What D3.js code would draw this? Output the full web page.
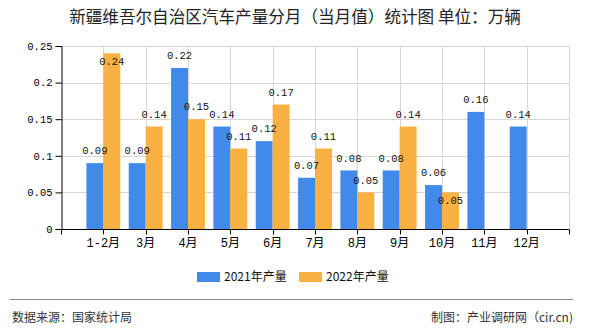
<!DOCTYPE html>
<html><head><meta charset="utf-8">
<script src="https://cdn.jsdelivr.net/npm/d3@7"></script>
<style>body{margin:0;background:#fff}svg{display:block}</style>
</head><body><svg id="c" width="590" height="330"></svg>
<script>
const categories = ["1-2月","3月","4月","5月","6月","7月","8月","9月","10月","11月","12月"];
const series2021 = [0.09,0.09,0.22,0.14,0.12,0.07,0.08,0.08,0.06,0.16,0.14];
const series2022 = [0.24,0.14,0.15,0.11,0.17,0.11,0.05,0.14,0.05,null,null];
const yTicks = [0,0.05,0.1,0.15,0.2,0.25];
const yTickLabels = ["0","0.05","0.1","0.15","0.2","0.25"];
const seriesNames = ["2021年产量","2022年产量"];
const colors = ["#418aeb","#fbb142"];

const svg = d3.select("#c");
const L=61, R=569, T=46, B=229;
const monoFont = "'Liberation Mono','DejaVu Sans Mono',monospace";
const cjk = "'Noto Sans CJK SC','Noto Sans',sans-serif";

const x = d3.scalePoint().domain(categories).range([L,R]).padding(1);
const step = x.step();
const y = d3.scaleLinear().domain([0,0.25]).range([B,T]);
const bw = step*0.4;

svg.append("text").attr("x",295).attr("y",23).attr("text-anchor","middle")
  .attr("font-family",cjk).attr("font-size",16.6).attr("fill","#222").text("新疆维吾尔自治区汽车产量分月（当月值）统计图 单位：万辆");

// grid
const g = svg.append("g");
g.selectAll(".hg").data(yTicks.slice(1)).join("line")
  .attr("x1",L).attr("x2",R).attr("y1",d=>Math.round(y(d))+0.5).attr("y2",d=>Math.round(y(d))+0.5)
  .attr("stroke","#d6d6d6");
const vx = categories.map(c=>x(c)).concat([R]);
g.selectAll(".vg").data(vx).join("line")
  .attr("x1",d=>Math.round(d)+0.5).attr("x2",d=>Math.round(d)+0.5).attr("y1",T).attr("y2",B)
  .attr("stroke","#d6d6d6");

// bars
const data = [series2021, series2022];
data.forEach((s,si)=>{
  svg.append("g").selectAll("rect").data(categories.map((c,i)=>({c,v:s[i]})).filter(d=>d.v!=null)).join("rect")
    .attr("x",d=>x(d.c)+(si===0?-bw:0)).attr("width",bw)
    .attr("y",d=>y(d.v)).attr("height",d=>B-y(d.v)).attr("fill",colors[si]);
});

// axes
const ya = d3.axisLeft(y).tickValues(yTicks).tickSize(6).tickFormat((d,i)=>yTickLabels[i]);
const yg = svg.append("g").attr("transform",`translate(${L+0.5},0)`).call(ya);
yg.select(".domain").attr("stroke","#000");
yg.selectAll(".tick line").attr("stroke","#000");
yg.selectAll(".tick text").attr("font-family",monoFont).attr("font-size",10.5).attr("fill","#000").attr("x",-9);

const xg = svg.append("g").attr("transform",`translate(0,${B+0.5})`);
xg.append("line").attr("x1",L).attr("x2",R).attr("stroke","#000");
xg.selectAll(".xt").data([L].concat(vx)).join("line")
  .attr("x1",d=>Math.round(d)+0.5).attr("x2",d=>Math.round(d)+0.5).attr("y1",0).attr("y2",5).attr("stroke","#000");
xg.selectAll("text").data(categories).join("text")
  .attr("x",d=>x(d)).attr("y",17).attr("text-anchor","middle")
  .attr("font-family",monoFont+","+cjk).attr("font-size",12).attr("fill","#000").text(d=>d);

// labels
const lbl = svg.append("g").attr("font-family",monoFont).attr("font-size",10.5).attr("fill","#111").attr("text-anchor","middle");
categories.forEach((c,i)=>{
  const v1 = series2021[i], v2 = series2022[i];
  let y1 = v1!=null ? y(v1)-12.5 : null;
  if (v1!=null) {
    if (y1 < T) y1 = y(v1)+8;
    lbl.append("text").attr("x",x(c)-bw/2).attr("y",y1).attr("dy","0.35em").text(v1);
  }
  if (v2!=null) {
    let y2 = y(v2)-12.5;
    if (y2 < T || (y1!=null && Math.abs(y2-y1) < 13)) y2 = y(v2)+8;
    lbl.append("text").attr("x",x(c)+bw/2).attr("y",y2).attr("dy","0.35em").text(v2);
  }
});

// legend
const lg = svg.append("g");
const lx = [197,299];
seriesNames.forEach((n,i)=>{
  lg.append("rect").attr("x",lx[i]).attr("y",272).attr("width",23).attr("height",10).attr("fill",colors[i]);
  lg.append("text").attr("x",lx[i]+27).attr("y",277).attr("dy","0.35em").attr("font-family",cjk).attr("font-size",12).attr("fill","#111").text(n);
});

// footer
svg.append("line").attr("x1",10).attr("x2",573).attr("y1",299.5).attr("y2",299.5).attr("stroke","#888");
svg.append("text").attr("x",12).attr("y",318).attr("dy","0.35em").attr("font-family",cjk).attr("font-size",12).attr("fill","#333").text("数据来源：国家统计局");
svg.append("text").attr("x",573).attr("y",318).attr("dy","0.35em").attr("text-anchor","end").attr("font-family",cjk).attr("font-size",12).attr("fill","#333").text("制图：产业调研网（cir.cn)");
</script></body></html>
